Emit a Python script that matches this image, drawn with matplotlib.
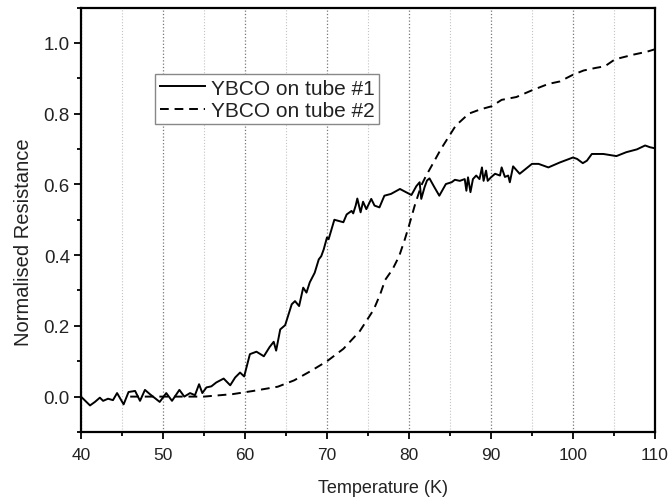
import matplotlib
matplotlib.use("Agg")
import matplotlib.pyplot as plt
from matplotlib.ticker import MultipleLocator

plt.rcParams["font.family"] = ["Liberation Sans", "DejaVu Sans"]

# YBCO on tube #1 (solid)
temp_1 = [40.0, 41.1, 41.7, 42.3, 42.7, 43.3, 43.9, 44.4, 45.2, 45.8, 46.6, 47.2, 47.8,
          48.4, 49.6, 50.4, 51.1, 52.0, 52.6, 53.3, 53.9, 54.4, 54.8, 55.3, 55.9, 56.5,
          57.4, 58.2, 58.8, 59.4, 59.9, 60.6, 61.4, 62.3, 63.0, 63.5, 63.8, 64.3, 64.9,
          65.7, 66.1, 66.6, 67.1, 67.5, 67.9, 68.5, 69.0, 69.3, 69.6, 70.0, 70.2, 70.9,
          72.0, 72.4, 73.0, 73.2, 73.5, 73.7, 74.1, 74.4, 74.8, 75.4, 75.8, 76.4, 77.0,
          77.8, 78.9, 79.8, 80.3, 80.9, 81.3, 81.5, 81.9, 82.2, 82.5, 83.1, 83.7, 84.5,
          85.2, 85.6, 86.2, 86.8, 87.0, 87.2, 87.5, 87.8, 88.2, 88.6, 88.9, 89.1, 89.4,
          89.6, 90.0, 90.5, 91.1, 91.3, 91.7, 92.1, 92.3, 92.7, 93.5, 95.0, 95.8, 97.0,
          98.4, 100.0, 100.5, 101.2, 101.7, 102.3, 103.7, 105.3, 106.5, 107.8, 108.8,
          109.4, 110.0]
res_1 = [0.0, -0.025, -0.015, -0.003, -0.012, -0.006, -0.01, 0.01, -0.022, 0.013, 0.016,
         -0.012, 0.019, 0.007, -0.015, 0.01, -0.012, 0.019, 0.0, 0.01, 0.004, 0.035, 0.01,
         0.026, 0.029, 0.04, 0.051, 0.032, 0.054, 0.068, 0.057, 0.12, 0.127, 0.114, 0.14,
         0.155, 0.13, 0.19, 0.202, 0.261, 0.27, 0.256, 0.308, 0.294, 0.323, 0.35, 0.388,
         0.397, 0.416, 0.45, 0.445, 0.5, 0.493, 0.515, 0.525, 0.518, 0.54, 0.56, 0.521,
         0.551, 0.53, 0.559, 0.54, 0.535, 0.568, 0.573, 0.587, 0.576, 0.57, 0.595, 0.606,
         0.559, 0.592, 0.611, 0.617, 0.592, 0.568, 0.601, 0.606, 0.613, 0.61, 0.615,
         0.582, 0.62, 0.578, 0.615, 0.625, 0.615, 0.648, 0.61, 0.639, 0.61, 0.62, 0.63,
         0.625, 0.648, 0.621, 0.625, 0.606, 0.651, 0.63, 0.658, 0.658, 0.648, 0.662,
         0.676, 0.672, 0.66, 0.667, 0.686, 0.686, 0.68, 0.691, 0.699, 0.71, 0.705, 0.702]

# YBCO on tube #2 (dashed)
temp_2 = [46.0, 50.0, 55.0, 58.5, 61.0, 64.0, 66.0, 68.0, 70.0, 72.0, 74.0, 75.7, 76.5,
          77.1, 78.0, 78.8, 79.5, 80.0, 80.7, 81.5, 82.1, 82.9, 83.9, 84.8, 85.7, 87.3,
          88.7, 90.1, 91.3, 93.1, 95.0, 96.0, 97.0, 98.4, 100.0, 101.3, 102.7, 103.9,
          104.9, 105.7, 107.4, 109.0, 110.0]
res_2 = [0.0, 0.0, 0.0, 0.007, 0.016, 0.028, 0.046, 0.072, 0.1, 0.135, 0.185, 0.246,
         0.29, 0.33, 0.36, 0.397, 0.445, 0.483, 0.54, 0.597, 0.625, 0.658, 0.70, 0.733,
         0.766, 0.80, 0.812, 0.821, 0.839, 0.847, 0.866, 0.875, 0.884, 0.891, 0.91,
         0.922, 0.929, 0.934, 0.95, 0.957, 0.967, 0.975, 0.982]

fig = plt.figure(figsize=(6.71, 5.02), dpi=100)
ax = fig.add_axes([0.1207, 0.1375, 0.8554, 0.8455])

ax.plot(temp_1, res_1, color="black", lw=1.4, label="YBCO on tube #1")
ax.plot(temp_2, res_2, color="black", lw=1.4, dashes=(4.5, 3), label="YBCO on tube #2")

ax.set_xlim(40, 110)
ax.set_ylim(-0.1, 1.1)
ax.xaxis.set_major_locator(MultipleLocator(10))
ax.xaxis.set_minor_locator(MultipleLocator(5))
ax.yaxis.set_major_locator(MultipleLocator(0.2))
ax.yaxis.set_minor_locator(MultipleLocator(0.1))
ax.yaxis.set_major_formatter(lambda v, p: f"{v:.1f}")

# vertical dotted grid only
ax.grid(True, which="major", axis="x", ls=":", color="#777777", lw=0.9)
ax.grid(True, which="minor", axis="x", ls=":", color="#c4c4c4", lw=0.8)

for s in ax.spines.values():
    s.set_linewidth(1.6)
ax.tick_params(which="both", direction="out", top=False, right=False,
               width=1.3, colors="black", labelcolor="#222222")
ax.tick_params(which="major", length=5)
ax.tick_params(which="minor", length=3)
ax.tick_params(axis="x", labelsize=12.5, pad=6)
ax.tick_params(axis="y", labelsize=13.5, pad=3)

ax.set_xlabel("Temperature (K)", fontsize=13, color="#222222")
ax.set_ylabel("Normalised Resistance", fontsize=14.5, color="#222222")
ax.xaxis.set_label_coords(0.526, -0.11)
ax.yaxis.set_label_coords(-0.083, 0.45)

leg = ax.legend(loc="upper left", bbox_to_anchor=(0.129, 0.843), borderaxespad=0,
                fontsize=15, fancybox=False, framealpha=1, edgecolor="#888888",
                handlelength=2.2, handletextpad=0.25, labelspacing=0.15,
                borderpad=0.22)
leg.get_frame().set_linewidth(1.0)
for t in leg.get_texts():
    t.set_color("#222222")

fig.savefig("out.png", dpi=100)
